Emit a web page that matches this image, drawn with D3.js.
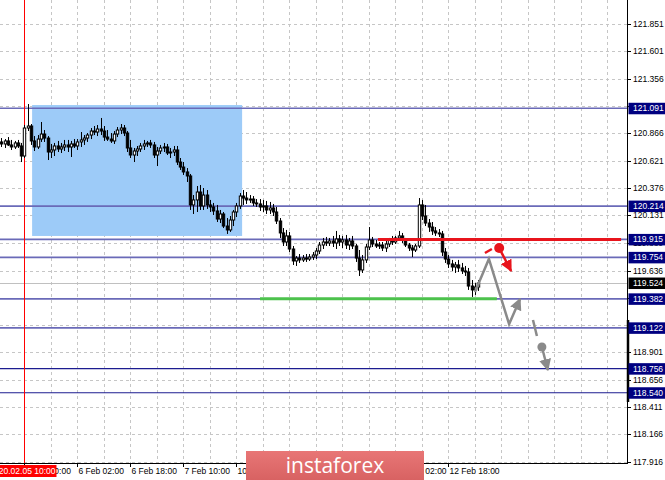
<!DOCTYPE html>
<html><head><meta charset="utf-8">
<script src="https://cdn.jsdelivr.net/npm/d3@7/dist/d3.min.js"></script>
<style>body{margin:0;background:#fff}svg{display:block}text{font-family:"Liberation Sans",Arial,sans-serif}</style>
</head><body><svg id="c" width="665" height="480"></svg>
<script>
// ---- data (H1 bars, index 0 = leftmost bar) ----
const open  = [120.789,120.771,120.798,120.762,120.744,120.780,120.753,120.663,120.914,120.932,120.798,120.744,120.815,120.860,120.824,120.699,120.717,120.753,120.726,120.744,120.762,120.744,120.771,120.753,120.789,120.807,120.824,120.851,120.887,120.878,120.905,120.887,120.833,120.815,120.798,120.860,120.896,120.914,120.869,120.735,120.672,120.708,120.726,120.753,120.771,120.780,120.762,120.672,120.708,120.735,120.744,120.690,120.699,120.717,120.609,120.564,120.520,120.484,120.224,120.269,120.340,120.215,120.313,120.224,120.206,120.170,120.098,120.143,120.035,120.000,120.089,120.161,120.215,120.304,120.286,120.269,120.277,120.242,120.233,120.206,120.215,120.179,120.197,120.161,120.080,119.973,119.892,119.946,119.829,119.722,119.748,119.731,119.748,119.739,119.757,119.775,119.811,119.865,119.892,119.883,119.901,119.883,119.919,119.892,119.910,119.865,119.901,119.856,119.748,119.641,119.731,119.847,119.910,119.874,119.856,119.865,119.838,119.874,119.910,119.892,119.928,119.946,119.910,119.865,119.838,119.820,119.856,120.224,120.125,120.062,120.026,119.991,119.973,119.964,119.802,119.739,119.695,119.668,119.686,119.659,119.632,119.623,119.497,119.462,119.488];
const high  = [120.824,120.815,120.833,120.807,120.798,120.807,120.780,120.941,121.129,120.950,120.842,120.851,120.968,120.896,120.842,120.771,120.780,120.798,120.780,120.807,120.807,120.798,120.815,120.815,120.878,120.851,120.869,120.914,120.932,120.941,121.004,120.932,120.896,120.869,120.887,120.923,120.950,120.941,120.887,120.807,120.735,120.753,120.780,120.807,120.798,120.807,120.789,120.744,120.762,120.780,120.771,120.735,120.753,120.753,120.645,120.609,120.555,120.502,120.313,120.394,120.403,120.376,120.358,120.269,120.242,120.224,120.179,120.161,120.107,120.125,120.179,120.242,120.331,120.358,120.340,120.313,120.304,120.277,120.277,120.269,120.260,120.251,120.233,120.206,120.107,120.017,120.000,119.982,119.856,119.766,119.784,119.775,119.784,119.784,119.802,119.838,119.892,119.928,119.937,119.928,119.946,119.991,119.955,119.946,119.955,119.928,119.946,119.874,119.820,119.775,119.874,120.026,119.937,119.910,119.892,119.892,119.910,119.928,119.946,119.946,119.991,119.973,119.928,119.883,119.865,119.874,120.286,120.269,120.224,120.098,120.071,120.026,120.008,119.991,119.838,119.775,119.731,119.713,119.731,119.704,119.677,119.659,119.551,119.524,119.551];
const low   = [120.744,120.735,120.753,120.717,120.726,120.735,120.609,120.645,120.887,120.762,120.708,120.726,120.789,120.789,120.627,120.645,120.663,120.699,120.690,120.708,120.699,120.654,120.735,120.717,120.744,120.762,120.789,120.815,120.851,120.842,120.851,120.798,120.798,120.780,120.771,120.833,120.860,120.842,120.699,120.645,120.609,120.663,120.699,120.717,120.744,120.735,120.645,120.573,120.681,120.699,120.672,120.645,120.663,120.582,120.538,120.493,120.430,120.179,120.143,120.161,120.179,120.179,120.188,120.161,120.134,120.071,120.062,120.017,119.964,119.982,120.035,120.116,120.188,120.224,120.233,120.242,120.215,120.206,120.170,120.161,120.143,120.143,120.125,120.053,119.928,119.856,119.856,119.802,119.686,119.677,119.704,119.713,119.713,119.722,119.731,119.739,119.784,119.829,119.856,119.856,119.847,119.829,119.856,119.838,119.829,119.820,119.829,119.713,119.587,119.614,119.704,119.820,119.847,119.838,119.829,119.811,119.802,119.847,119.865,119.874,119.901,119.883,119.847,119.811,119.757,119.802,119.838,120.089,120.035,119.982,119.955,119.946,119.937,119.766,119.704,119.659,119.632,119.614,119.623,119.605,119.587,119.462,119.399,119.417,119.453];
const close = [120.771,120.798,120.762,120.744,120.780,120.753,120.663,120.914,120.932,120.798,120.744,120.815,120.860,120.824,120.699,120.717,120.753,120.726,120.744,120.762,120.744,120.771,120.753,120.789,120.807,120.824,120.851,120.887,120.878,120.905,120.887,120.833,120.815,120.798,120.860,120.896,120.914,120.869,120.735,120.672,120.708,120.726,120.753,120.771,120.780,120.762,120.672,120.708,120.735,120.744,120.690,120.699,120.717,120.609,120.564,120.520,120.484,120.224,120.269,120.340,120.215,120.313,120.224,120.206,120.170,120.098,120.143,120.035,120.000,120.089,120.161,120.215,120.304,120.286,120.269,120.277,120.242,120.233,120.206,120.215,120.179,120.197,120.161,120.080,119.973,119.892,119.946,119.829,119.722,119.748,119.731,119.748,119.739,119.757,119.775,119.811,119.865,119.892,119.883,119.901,119.883,119.919,119.892,119.910,119.865,119.901,119.856,119.748,119.641,119.731,119.847,119.910,119.874,119.856,119.865,119.838,119.874,119.910,119.892,119.928,119.946,119.910,119.865,119.838,119.820,119.856,120.224,120.125,120.062,120.026,119.991,119.973,119.964,119.802,119.739,119.695,119.668,119.686,119.659,119.632,119.623,119.497,119.462,119.488,119.524];

const gridPrices = [121.851,121.601,121.356,121.111,120.866,120.621,120.376,120.131,119.880,119.636,119.391,119.146,118.901,118.656,118.411,118.166,117.916];
const gridLabelShown = [true,true,true,false,true,true,true,true,true,true,false,false,true,true,true,true,true];
const levelPrices = [121.091,120.214,119.915,119.754,119.382,119.122,118.756,118.540];
const levelDark   = [false,false,false,false,false,false,true,true];
const currentPrice = 119.524;
const xTickBars   = [7,23,39,55,71,87,103,119,135];
const xTickLabels = ["5 Feb 10:00","6 Feb 02:00","6 Feb 18:00","7 Feb 10:00","10 Feb 02:00","10 Feb 18:00","11 Feb 10:00","12 Feb 02:00","12 Feb 18:00"];
const markerBar = 7, markerLabel = "2020.02.05 10:00";
const zoneBars = [9.3, 72.7], zonePrices = [121.120, 119.946];
const redSeg = {bars:[113.7,187.1], price:119.915};
const greenSeg = {bars:[78.1,149.6], price:119.382};
const grayPath = [[143,119.443],[147.2,119.740],[153.3,119.156],[156.6,119.381]];
const grayDash = [[160.5,119.192],[161.7,119.049]];
const grayDot = [163.2,118.950], grayArrowEnd = [165.0,118.744];
const redDash = [[146.0,119.793],[148.1,119.829]];
const redDot = [150.3,119.838], redArrowEnd = [153.9,119.632];

// ---- layout ----
const W=665,H=480,PR=627,PB=463;
const svg=d3.select("#c");
const x=d3.scaleLinear().domain([0,189]).range([1.3,1.3+189*3.3125]);
const y=d3.scaleLinear().domain([117.910,122.062]).range([PB,0]);

svg.append("rect").attr("width",W).attr("height",H).attr("fill","#fff");
const defs=svg.append("defs");
function marker(id,color){
  defs.append("marker").attr("id",id).attr("markerUnits","userSpaceOnUse")
   .attr("viewBox","0 0 10 10").attr("refX",9).attr("refY",5)
   .attr("markerWidth",12).attr("markerHeight",12).attr("orient","auto")
   .append("path").attr("d","M0,0L10,5L0,10Z").attr("fill",color);
}
marker("ag","#8a8a8a"); marker("ar","#e8141c");
defs.append("clipPath").attr("id","pl").append("rect").attr("width",PR).attr("height",PB);
const g=svg.append("g").attr("clip-path","url(#pl)");

// grid
const vgrid=d3.range(-1,24).map(k=>7+8*k).filter(i=>x(i)>0&&x(i)<PR);
g.selectAll(".vg").data(vgrid).join("line").attr("x1",d=>Math.round(x(d))+.5).attr("x2",d=>Math.round(x(d))+.5)
 .attr("y1",0).attr("y2",PB).attr("stroke","#c6c6c6").attr("stroke-dasharray","3,3");
g.selectAll(".hg").data(gridPrices).join("line").attr("x1",0).attr("x2",PR)
 .attr("y1",d=>Math.round(y(d))+.5).attr("y2",d=>Math.round(y(d))+.5).attr("stroke","#c6c6c6").attr("stroke-dasharray","3,3");

// zone
g.append("rect").attr("x",x(zoneBars[0])).attr("y",y(zonePrices[0]))
 .attr("width",x(zoneBars[1])-x(zoneBars[0])).attr("height",y(zonePrices[1])-y(zonePrices[0])).attr("fill","#9dcbf8");

// current price line
g.append("line").attr("x1",0).attr("x2",PR).attr("y1",Math.round(y(currentPrice))+.5).attr("y2",Math.round(y(currentPrice))+.5).attr("stroke","#c0c0c0");

// levels
g.selectAll(".lv").data(levelPrices).join("line").attr("x1",0).attr("x2",PR)
 .attr("y1",d=>y(d)).attr("y2",d=>y(d))
 .attr("stroke",(d,i)=>levelDark[i]?"#1c1c90":"#6a6ab8").attr("stroke-width",(d,i)=>levelDark[i]?1.2:1.6);

// marker vertical line
g.append("line").attr("x1",Math.round(x(markerBar))+.5).attr("x2",Math.round(x(markerBar))+.5).attr("y1",0).attr("y2",PB).attr("stroke","#ff0000");

// candles
const idx=d3.range(close.length);
g.selectAll(".wk").data(idx).join("line").attr("x1",i=>Math.round(x(i))+.5).attr("x2",i=>Math.round(x(i))+.5)
 .attr("y1",i=>y(high[i])).attr("y2",i=>y(low[i])).attr("stroke","#000");
g.selectAll(".bd").data(idx).join("rect")
 .attr("x",i=>Math.round(x(i))-0.7).attr("width",2.4)
 .attr("y",i=>y(Math.max(open[i],close[i]))).attr("height",i=>Math.max(1,Math.abs(y(open[i])-y(close[i]))))
 .attr("fill",i=>close[i]>=open[i]?"#fff":"#000").attr("stroke","#000").attr("stroke-width",1);

// red & green segments
g.append("line").attr("x1",x(redSeg.bars[0])).attr("x2",x(redSeg.bars[1])).attr("y1",y(redSeg.price)).attr("y2",y(redSeg.price)).attr("stroke","#e8141c").attr("stroke-width",3);
g.append("line").attr("x1",x(greenSeg.bars[0])).attr("x2",x(greenSeg.bars[1])).attr("y1",y(greenSeg.price)).attr("y2",y(greenSeg.price)).attr("stroke","#4cc24c").attr("stroke-width",3);

// projection
const ln=d3.line().x(d=>x(d[0])).y(d=>y(d[1]));
g.append("path").attr("d",ln(grayPath)).attr("fill","none").attr("stroke","#8a8a8a").attr("stroke-width",2.5).attr("marker-end","url(#ag)");
g.append("path").attr("d",ln(grayDash)).attr("fill","none").attr("stroke","#8a8a8a").attr("stroke-width",2.5);
g.append("circle").attr("cx",x(grayDot[0])).attr("cy",y(grayDot[1])).attr("r",4.5).attr("fill","#8a8a8a");
g.append("path").attr("d",ln([grayDot,grayArrowEnd])).attr("stroke","#8a8a8a").attr("stroke-width",2.5).attr("marker-end","url(#ag)");
g.append("path").attr("d",ln(redDash)).attr("fill","none").attr("stroke","#e8141c").attr("stroke-width",2.5);
g.append("circle").attr("cx",x(redDot[0])).attr("cy",y(redDot[1])).attr("r",5).attr("fill","#e8141c");
g.append("path").attr("d",ln([redDot,redArrowEnd])).attr("stroke","#e8141c").attr("stroke-width",2.5).attr("marker-end","url(#ar)");

// frame
svg.append("line").attr("x1",PR+.5).attr("x2",PR+.5).attr("y1",0).attr("y2",PB+1).attr("stroke","#000");
svg.append("line").attr("x1",0).attr("x2",PR+1).attr("y1",PB+.5).attr("y2",PB+.5).attr("stroke","#000");
svg.append("line").attr("x1",PR+1).attr("x2",PR+1).attr("y1",320).attr("y2",402).attr("stroke","#000").attr("stroke-width",2.5);

// y axis labels
const fs=8.5;
svg.selectAll(".yt").data(gridPrices).join("line").attr("x1",PR).attr("x2",PR+4).attr("y1",d=>Math.round(y(d))+.5).attr("y2",d=>Math.round(y(d))+.5).attr("stroke","#000");
svg.selectAll(".yl").data(gridPrices.filter((d,i)=>gridLabelShown[i])).join("text").attr("x",633).attr("y",d=>y(d)+3).attr("font-size",fs).attr("fill","#000").text(d=>d.toFixed(3));
function tag(p,bg){
  const yy=y(p);
  svg.append("rect").attr("x",628.5).attr("y",yy-5.5).attr("width",37).attr("height",11.5).attr("fill",bg);
  svg.append("text").attr("x",633).attr("y",yy+3).attr("font-size",fs).attr("fill","#fff").text(p.toFixed(3));
}
levelPrices.forEach(p=>tag(p,"#000080"));
tag(currentPrice,"#000");

// x axis labels
svg.selectAll(".xt").data(xTickBars).join("line").attr("x1",d=>Math.round(x(d))+.5).attr("x2",d=>Math.round(x(d))+.5).attr("y1",PB).attr("y2",PB+4).attr("stroke","#000");
svg.selectAll(".xl").data(xTickBars).join("text").attr("x",d=>x(d)+1).attr("y",PB+11).attr("font-size",fs).attr("fill","#000").text((d,i)=>xTickLabels[i]);
svg.append("rect").attr("x",0).attr("y",PB+2).attr("width",x(markerBar)+32).attr("height",12).attr("fill","#ff0000");
svg.append("text").attr("x",x(markerBar)+31).attr("y",PB+11).attr("text-anchor","end").attr("font-size",fs).attr("fill","#fff").text(markerLabel);

// banner
const gr=defs.append("linearGradient").attr("id","bn").attr("x1",0).attr("x2",0).attr("y1",0).attr("y2",1);
gr.append("stop").attr("offset",0).attr("stop-color","#e87676");
gr.append("stop").attr("offset",1).attr("stop-color","#d86262");
svg.append("rect").attr("x",246).attr("y",451).attr("width",178).attr("height",29).attr("fill","url(#bn)");
svg.append("text").attr("x",335).attr("y",473).attr("text-anchor","middle").attr("font-size",21).attr("fill","#fff")
 .style("font-family","'Open Sans',sans-serif").text("instaforex");
</script></body></html>
